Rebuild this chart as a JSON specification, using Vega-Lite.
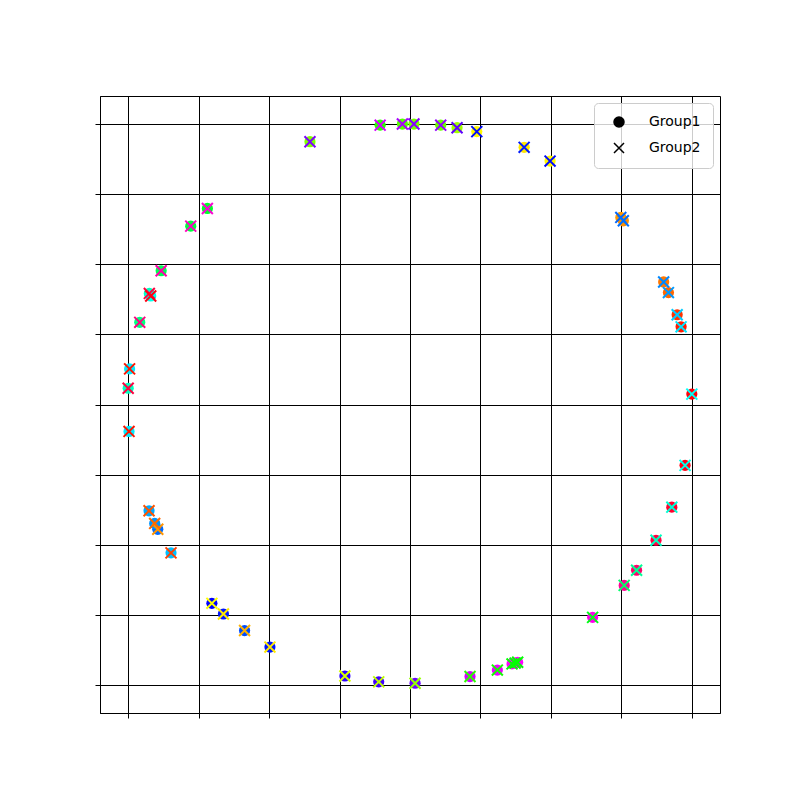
{
  "$schema": "https://vega.github.io/schema/vega-lite/v6.json",
  "width": 620,
  "height": 617,
  "autosize": {"type": "none"},
  "padding": {"left": 100, "top": 96, "right": 80, "bottom": 87},
  "background": "white",
  "config": {
    "view": {"stroke": "black", "strokeWidth": 1},
    "axis": {
      "grid": true,
      "gridColor": "black",
      "gridWidth": 1,
      "gridOpacity": 1,
      "domainColor": "black",
      "domainWidth": 1,
      "tickColor": "black",
      "tickSize": 5,
      "tickWidth": 1,
      "labels": false,
      "title": null
    }
  },
  "data": {
    "values": [
      {"x": -0.355, "y": 0.937, "hue": 90},
      {"x": -0.106, "y": 0.996, "hue": 110},
      {"x": -0.027, "y": 1.0, "hue": 100},
      {"x": 0.014, "y": 1.0, "hue": 92},
      {"x": 0.109, "y": 0.996, "hue": 95},
      {"x": 0.167, "y": 0.987, "hue": 82},
      {"x": 0.237, "y": 0.973, "hue": 58},
      {"x": 0.405, "y": 0.917, "hue": 54},
      {"x": 0.497, "y": 0.868, "hue": 58},
      {"x": 0.748, "y": 0.667, "hue": 36},
      {"x": 0.757, "y": 0.655, "hue": 34},
      {"x": 0.900, "y": 0.437, "hue": 28},
      {"x": 0.917, "y": 0.399, "hue": 24},
      {"x": 0.948, "y": 0.320, "hue": 12},
      {"x": 0.962, "y": 0.277, "hue": 6},
      {"x": 1.0, "y": 0.037, "hue": 358},
      {"x": 0.976, "y": -0.217, "hue": 355},
      {"x": 0.929, "y": -0.366, "hue": 350},
      {"x": 0.873, "y": -0.484, "hue": 345},
      {"x": 0.804, "y": -0.591, "hue": 335},
      {"x": 0.760, "y": -0.645, "hue": 325},
      {"x": 0.648, "y": -0.759, "hue": 305},
      {"x": 0.382, "y": -0.919, "hue": 300},
      {"x": 0.373, "y": -0.922, "hue": 300},
      {"x": 0.362, "y": -0.925, "hue": 300},
      {"x": 0.310, "y": -0.947, "hue": 295},
      {"x": 0.213, "y": -0.970, "hue": 290},
      {"x": 0.018, "y": -0.994, "hue": 265},
      {"x": -0.111, "y": -0.989, "hue": 255},
      {"x": -0.231, "y": -0.968, "hue": 250},
      {"x": -0.497, "y": -0.865, "hue": 235},
      {"x": -0.587, "y": -0.806, "hue": 222},
      {"x": -0.662, "y": -0.747, "hue": 235},
      {"x": -0.703, "y": -0.709, "hue": 240},
      {"x": -0.848, "y": -0.529, "hue": 195},
      {"x": -0.895, "y": -0.445, "hue": 215},
      {"x": -0.906, "y": -0.424, "hue": 205},
      {"x": -0.926, "y": -0.379, "hue": 200},
      {"x": -0.997, "y": -0.096, "hue": 185},
      {"x": -1.0, "y": 0.058, "hue": 165},
      {"x": -0.995, "y": 0.127, "hue": 185},
      {"x": -0.959, "y": 0.293, "hue": 150},
      {"x": -0.925, "y": 0.396, "hue": 165},
      {"x": -0.920, "y": 0.387, "hue": 175},
      {"x": -0.883, "y": 0.477, "hue": 140},
      {"x": -0.778, "y": 0.636, "hue": 135},
      {"x": -0.719, "y": 0.699, "hue": 130}
    ]
  },
  "encoding": {
    "x": {
      "field": "x",
      "type": "quantitative",
      "scale": {"domain": [-1.1, 1.1], "nice": false, "zero": false},
      "axis": {"values": [-1, -0.75, -0.5, -0.25, 0, 0.25, 0.5, 0.75, 1]}
    },
    "y": {
      "field": "y",
      "type": "quantitative",
      "scale": {"domain": [-1.1, 1.1], "nice": false, "zero": false},
      "axis": {"values": [-1, -0.75, -0.5, -0.25, 0, 0.25, 0.5, 0.75, 1]}
    }
  },
  "layer": [
    {
      "mark": {"type": "point", "filled": true, "size": 125, "opacity": 1},
      "encoding": {
        "color": {
          "field": "hue",
          "type": "quantitative",
          "scale": {
            "domain": [0, 60, 120, 180, 240, 300, 360],
            "range": ["#ff0000", "#ffff00", "#00ff00", "#00ffff", "#0000ff", "#ff00ff", "#ff0000"],
            "interpolate": "rgb"
          },
          "legend": null
        },
        "shape": {
          "datum": "Group1",
          "type": "nominal",
          "scale": {"domain": ["Group1", "Group2"], "range": ["circle", "M-1,-1L1,1M-1,1L1,-1"]},
          "legend": {
            "title": null,
            "orient": "top-right",
            "offset": 7,
            "padding": 12,
            "cornerRadius": 4,
            "strokeColor": "#cccccc",
            "fillColor": "rgba(255,255,255,0.8)",
            "labelFontSize": 14,
            "labelFont": "DejaVu Sans",
            "labelColor": "black",
            "symbolSize": 100,
            "symbolOffset": 6,
            "labelOffset": 23,
            "rowPadding": 10,
            "symbolFillColor": "black",
            "symbolStrokeColor": "black",
            "symbolStrokeWidth": 1.5,
            "symbolOpacity": 1,
            "encode": {
              "symbols": {
                "update": {
                  "fill": {"value": "black"},
                  "stroke": {"value": "black"},
                  "strokeWidth": {"value": 1.5},
                  "opacity": {"value": 1}
                }
              }
            }
          }
        }
      }
    },
    {
      "mark": {"type": "point", "filled": false, "size": 120, "strokeWidth": 2, "opacity": 1},
      "encoding": {
        "color": {
          "field": "hue",
          "type": "quantitative",
          "scale": {
            "domain": [0, 60, 120, 180, 240, 300, 360],
            "range": ["#00ffff", "#0000ff", "#ff00ff", "#ff0000", "#ffff00", "#00ff00", "#00ffff"],
            "interpolate": "rgb"
          },
          "legend": null
        },
        "shape": {"datum": "Group2", "type": "nominal"}
      }
    }
  ],
  "resolve": {"scale": {"color": "independent"}}
}
